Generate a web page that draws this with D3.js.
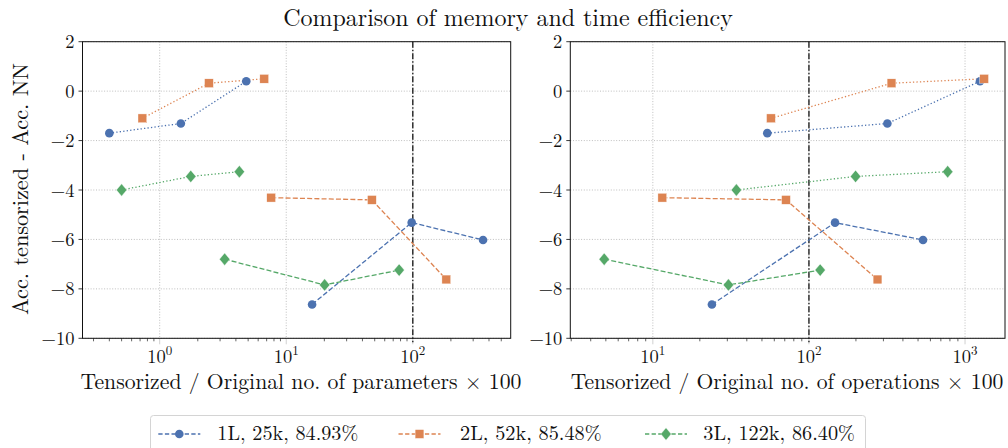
<!DOCTYPE html>
<html><head><meta charset="utf-8">
<script src="https://cdn.jsdelivr.net/npm/d3@7"></script>
<style>body{margin:0;background:#fff}svg{display:block}</style>
</head><body><svg id="c" width="1008" height="448" font-family="Latin Modern Roman, Liberation Serif, serif"></svg>
<script>
const seriesNames = ["1L, 25k, 84.93%", "2L, 52k, 85.48%", "3L, 122k, 86.40%"];
const colors = ["#4c72b0", "#dd8452", "#55a868"];
const yTicks = [2, 0, -2, -4, -6, -8, -10];

// accuracy differences (same in both panels)
const accDotted1 = [-1.70, -1.31, 0.40];
const accDotted2 = [-1.10, 0.32, 0.50];
const accDotted3 = [-4.00, -3.45, -3.26];
const accDashed1 = [-8.63, -5.32, -6.02];
const accDashed2 = [-4.31, -4.40, -7.62];
const accDashed3 = [-6.80, -7.84, -7.24];

// left panel: parameters ratio x100
const paramsDotted1 = [0.40, 1.47, 4.83];
const paramsDotted2 = [0.73, 2.45, 6.7];
const paramsDotted3 = [0.50, 1.76, 4.26];
const paramsDashed1 = [16.0, 98, 359];
const paramsDashed2 = [7.6, 47.5, 184];
const paramsDashed3 = [3.26, 20.1, 78];

// right panel: operations ratio x100
const opsDotted1 = [54.1, 318, 1247];
const opsDotted2 = [57.1, 338, 1325];
const opsDotted3 = [34.3, 199, 774];
const opsDashed1 = [23.9, 147, 538];
const opsDashed2 = [11.5, 71.3, 275];
const opsDashed3 = [4.88, 30.5, 118];

const refLine = 100;

const svg = d3.select("#c");
const yTop = 41.7, yBot = 338.3;
const y = d3.scaleLinear().domain([-10, 2]).range([yBot, yTop]);
const ink = "#111";

// size a text so its width matches a target width
function fit(sel, target) {
  const base = 20;
  sel.attr("font-size", base);
  const w = sel.node().getComputedTextLength();
  if (w > 0) sel.attr("font-size", base * target / w);
  return sel;
}

const panels = [
  {x0: 82.5, x1: 510.7, domain: [0.2455, 593.7], label: "Tensorized / Original no. of parameters × 100", lw: 441, lc: 301,
   dotted: [paramsDotted1, paramsDotted2, paramsDotted3], dashed: [paramsDashed1, paramsDashed2, paramsDashed3]},
  {x0: 570.3, x1: 1005, domain: [2.96, 1803], label: "Tensorized / Original no. of operations × 100", lw: 433, lc: 787,
   dotted: [opsDotted1, opsDotted2, opsDotted3], dashed: [opsDashed1, opsDashed2, opsDashed3]}
];
const accDotted = [accDotted1, accDotted2, accDotted3];
const accDashed = [accDashed1, accDashed2, accDashed3];

function marker(g, i, cx, cy) {
  if (i === 0) g.append("circle").attr("cx", cx).attr("cy", cy).attr("r", 4.3).attr("fill", colors[i]);
  else if (i === 1) g.append("rect").attr("x", cx - 4.4).attr("y", cy - 4.4).attr("width", 8.8).attr("height", 8.8).attr("fill", colors[i]).attr("stroke","#fff").attr("stroke-width",0.4);
  else g.append("path").attr("d", `M${cx},${cy-6.2}L${cx+5.2},${cy}L${cx},${cy+6.2}L${cx-5.2},${cy}Z`).attr("fill", colors[i]).attr("stroke","#fff").attr("stroke-width",0.4);
}

panels.forEach(p => {
  const x = d3.scaleLog().domain(p.domain).range([p.x0, p.x1]);
  const g = svg.append("g");
  const clipId = "clip" + Math.round(p.x0);
  svg.append("clipPath").attr("id", clipId).append("rect").attr("x", p.x0).attr("y", yTop).attr("width", p.x1 - p.x0).attr("height", yBot - yTop);
  // grid
  const lo = Math.ceil(Math.log10(p.domain[0])), hi = Math.floor(Math.log10(p.domain[1]));
  const majors = d3.range(lo, hi + 1).map(e => Math.pow(10, e));
  majors.forEach(v => {
    g.append("line").attr("x1", x(v)).attr("x2", x(v)).attr("y1", yTop).attr("y2", yBot)
      .attr("stroke", "#b8b8b8").attr("stroke-width", 0.9).attr("stroke-dasharray", "1,1.7");
  });
  yTicks.forEach(v => {
    g.append("line").attr("x1", p.x0).attr("x2", p.x1).attr("y1", y(v)).attr("y2", y(v))
      .attr("stroke", "#b8b8b8").attr("stroke-width", 0.9).attr("stroke-dasharray", "1,1.7");
  });
  // minor ticks
  const minors = [];
  for (let e = lo - 1; e <= hi; e++) for (let m = 2; m <= 9; m++) {
    const v = m * Math.pow(10, e);
    if (v > p.domain[0] && v < p.domain[1]) minors.push(v);
  }
  minors.forEach(v => g.append("line").attr("x1", x(v)).attr("x2", x(v)).attr("y1", yBot).attr("y2", yBot + 3).attr("stroke", "#222").attr("stroke-width", 0.7));
  majors.forEach(v => {
    g.append("line").attr("x1", x(v)).attr("x2", x(v)).attr("y1", yBot).attr("y2", yBot + 6).attr("stroke", "#ccc").attr("stroke-width", 0.9);
    const t = g.append("text").attr("x", x(v)).attr("y", yBot + 25).attr("text-anchor", "middle").attr("font-size", 18.5).attr("fill", ink);
    t.append("tspan").text("10");
    t.append("tspan").attr("dy", -8).attr("font-size", 13).text(String(Math.round(Math.log10(v))));
  });
  // y ticks
  yTicks.forEach(v => {
    g.append("line").attr("x1", p.x0 - 4).attr("x2", p.x0).attr("y1", y(v)).attr("y2", y(v)).attr("stroke", "#222").attr("stroke-width", 0.9);
    g.append("text").attr("x", p.x0 - 8).attr("y", y(v) + 6.6).attr("text-anchor", "end").attr("font-size", 18.5).attr("fill", ink)
      .text(v < 0 ? "\u2212" + Math.abs(v) : String(v));
  });
  // ref line
  g.append("line").attr("x1", x(refLine)).attr("x2", x(refLine)).attr("y1", yTop).attr("y2", yBot + 4)
    .attr("stroke", "#222").attr("stroke-width", 1.4).attr("stroke-dasharray", "6,2,1.5,2");
  // series
  const plot = svg.append("g").attr("clip-path", `url(#${clipId})`);
  for (let i = 0; i < 3; i++) {
    const dPts = p.dotted[i].map((v, k) => [x(v), y(accDotted[i][k])]);
    const sPts = p.dashed[i].map((v, k) => [x(v), y(accDashed[i][k])]);
    plot.append("path").attr("d", d3.line()(dPts)).attr("fill", "none").attr("stroke", colors[i]).attr("stroke-width", 1.3).attr("stroke-dasharray", "1.3,2.2");
    plot.append("path").attr("d", d3.line()(sPts)).attr("fill", "none").attr("stroke", colors[i]).attr("stroke-width", 1.3).attr("stroke-dasharray", "5,2.2");
  }
  const mk = svg.append("g");
  for (let i = 0; i < 3; i++) {
    p.dotted[i].forEach((v, k) => marker(mk, i, x(v), y(accDotted[i][k])));
    p.dashed[i].forEach((v, k) => marker(mk, i, x(v), y(accDashed[i][k])));
  }
  // frame
  svg.append("rect").attr("x", p.x0).attr("y", yTop).attr("width", p.x1 - p.x0).attr("height", yBot - yTop)
    .attr("fill", "none").attr("stroke", "#111").attr("stroke-width", 1);
  // x label
  fit(svg.append("text").attr("x", p.lc).attr("y", 389).attr("text-anchor", "middle").attr("fill", ink).text(p.label), p.lw);
});

// y label
fit(svg.append("text").attr("transform", `translate(28,189) rotate(-90)`).attr("text-anchor", "middle").attr("fill", ink)
  .text("Acc. tensorized - Acc. NN"), 252);

// title
fit(svg.append("text").attr("x", 508).attr("y", 26).attr("text-anchor", "middle").attr("fill", ink)
  .text("Comparison of memory and time efficiency"), 450);

// legend
const lg = svg.append("g");
lg.append("rect").attr("x", 150.5).attr("y", 415.5).attr("width", 715).attr("height", 45).attr("rx", 3)
  .attr("fill", "#fff").attr("stroke", "#d4d4d4").attr("stroke-width", 1);
const lx = [158.3, 398.5, 645];
const lt = [217.3, 460, 703.3];
const lwid = [141, 141.7, 151.7];
seriesNames.forEach((n, i) => {
  const yy = 434;
  lg.append("line").attr("x1", lx[i]).attr("x2", lx[i] + 42).attr("y1", yy).attr("y2", yy)
    .attr("stroke", colors[i]).attr("stroke-width", 1.3).attr("stroke-dasharray", "4.3,2.3");
  marker(lg, i, lx[i] + 21, yy);
  fit(lg.append("text").attr("x", lt[i]).attr("y", 440).attr("fill", ink).text(n), lwid[i]);
});
</script></body></html>
